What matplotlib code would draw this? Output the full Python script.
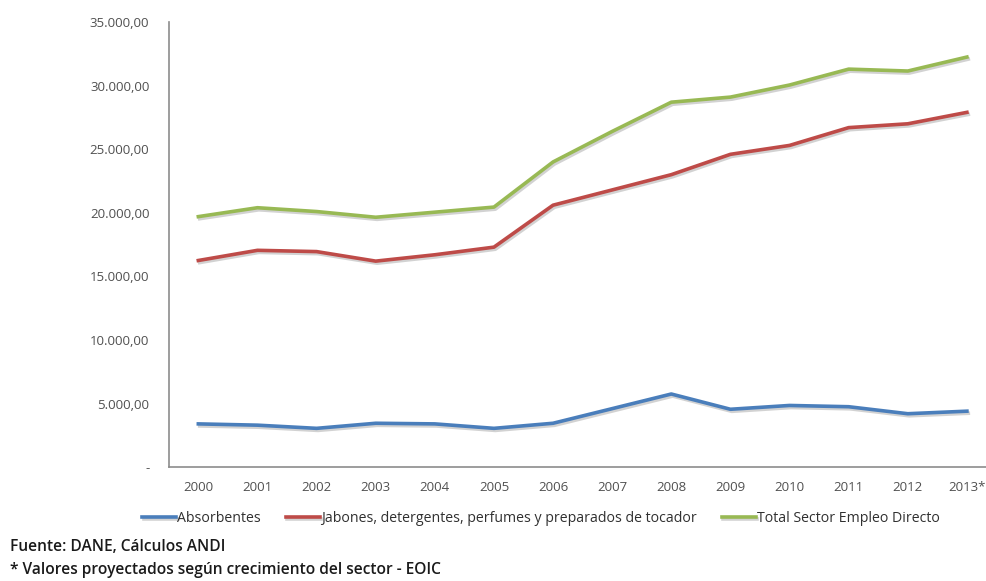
import matplotlib.pyplot as plt
import matplotlib.patheffects as pe
from matplotlib.ticker import FuncFormatter

years = ['2000', '2001', '2002', '2003', '2004', '2005', '2006',
         '2007', '2008', '2009', '2010', '2011', '2012', '2013*']
absorbentes = [3400, 3300, 3050, 3450, 3400, 3050, 3450,
               4600, 5750, 4550, 4850, 4750, 4200, 4400]
jabones = [16250, 17050, 16950, 16200, 16700, 17300, 20600,
           21800, 23000, 24600, 25300, 26700, 27000, 27900]
total = [19700, 20400, 20100, 19650, 20050, 20450, 24000,
         26400, 28700, 29100, 30050, 31300, 31150, 32250]

labels = ['Absorbentes',
          'Jabones, detergentes, perfumes y preparados de tocador',
          'Total Sector Empleo Directo']
colors = ['#4a7ebb', '#be4b48', '#98b954']

plt.rcParams['font.family'] = ['Open Sans', 'DejaVu Sans']

fig = plt.figure(figsize=(9.87, 5.81), dpi=100)
ax = fig.add_axes([0.171, 0.196, 0.8386, 0.766])

shadow = [pe.SimpleLineShadow(offset=(1, -1.5), shadow_color='gray', alpha=0.35),
          pe.Normal()]
x = range(len(years))
for vals, lab, c in zip([absorbentes, jabones, total], labels, colors):
    ax.plot(x, vals, color=c, lw=2.6, label=lab, path_effects=shadow)

ax.set_xlim(-0.5, len(years) - 0.5)
ax.set_ylim(0, 35000)
ax.set_yticks(range(0, 35001, 5000))
ax.set_xticks(list(x))
ax.set_xticklabels(years)


def fmt(v, pos):
    if v == 0:
        return '-'
    return '{:,.2f}'.format(v).replace(',', 'X').replace('.', ',').replace('X', '.')


ax.yaxis.set_major_formatter(FuncFormatter(fmt))
ax.tick_params(length=0, labelsize=9.5, colors='#505050')
ax.tick_params(axis='y', pad=14)
ax.tick_params(axis='x', pad=10)
for s in ['top', 'right']:
    ax.spines[s].set_visible(False)
for s in ['left', 'bottom']:
    ax.spines[s].set_color('#8c8c8c')
    ax.spines[s].set_linewidth(1.2)

fig.legend(loc='center', bbox_to_anchor=(0.548, 0.107), ncol=3, frameon=False,
           fontsize=10.2, handlelength=2.4, handletextpad=0.05, columnspacing=1.8,
           labelcolor='#303030')

fig.text(0.01, 0.0585, 'Fuente: DANE, Cálculos ANDI', fontsize=11.2,
         fontweight='semibold', color='#1a1a1a', va='center')
fig.text(0.01, 0.019, '* Valores proyectados según crecimiento del sector - EOIC',
         fontsize=11.2, fontweight='semibold', color='#1a1a1a', va='center')

fig.savefig('out.png', dpi=100)
